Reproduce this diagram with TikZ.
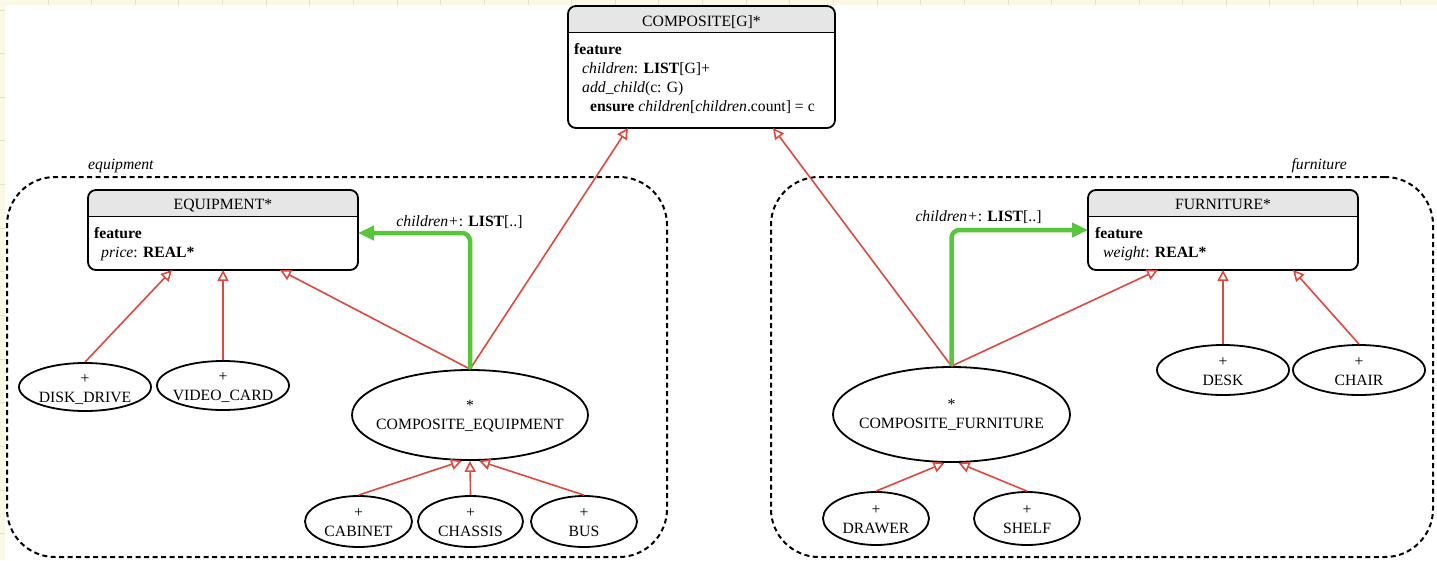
\documentclass[tikz,border=0pt]{standalone}
\usepackage{fontspec}
\setmainfont{Liberation Serif}
\usetikzlibrary{arrows.meta,shapes.geometric}
\pgfdeclarelayer{background}
\pgfsetlayers{background,main}
\definecolor{paper}{HTML}{FCF8E6}
\definecolor{gridline}{HTML}{E8E1CA}
\definecolor{hdrgray}{HTML}{E6E6E6}
\definecolor{inherit}{HTML}{E0483E}
\definecolor{assoc}{HTML}{58C63A}
% two-line ellipse text: #1 = height of the first line's strut
\newcommand\twoline[3]{\rule{0pt}{#1pt}#2\\#3\rule[-4pt]{0pt}{4pt}}
\begin{document}
\begin{tikzpicture}[x=1pt,y=-1pt,
  every node/.style={font=\fontsize{15.7pt}{19pt}\selectfont},
  cls/.style={draw, line width=1.8pt, rounded corners=8pt, outer sep=0pt, inner sep=0pt},
  hdr/.style={anchor=base, inner sep=0pt},
  txt/.style={anchor=base west, inner sep=0pt},
  ell/.style={ellipse, draw, line width=1.8pt, inner sep=0pt},
  etxt/.style={align=center, inner sep=0pt},
  region/.style={draw, line width=2pt, dash pattern=on 5pt off 3.5pt, rounded corners=48pt, inner sep=0pt, outer sep=0pt},
  reglbl/.style={inner sep=0pt, font=\fontsize{15.7pt}{19pt}\selectfont\itshape},
  isa/.style={draw=inherit, line width=1.6pt, -{Triangle[open, length=11pt, width=11pt]}},
  has/.style={draw=assoc, line width=4.5pt, rounded corners=8pt, -{Triangle[length=16pt, width=14pt]}},
  lbl/.style={inner sep=0pt, anchor=base}]
\useasboundingbox (0,0) rectangle (1437,560);

% paper with its grid, and the white sheet on top
\begin{pgfonlayer}{background}
  \fill[paper] (0,0) rectangle (1437,560);
  \foreach \i in {0,...,31} \draw[gridline, line width=1pt] ({48+43.64*\i},0) -- ++(0,560);
  \foreach \i in {0,...,12} \draw[gridline, line width=1pt] (0,{10+43.65*\i}) -- ++(1437,0);
  \fill[white] (5,5) rectangle (1437,560);
\end{pgfonlayer}

% clusters
\node[region, minimum width=660pt, minimum height=380pt] (eqreg) at (337,367) {};
\node[region, minimum width=662pt, minimum height=380pt] (frreg) at (1102,367) {};
\node[reglbl, anchor=base west] (eqlbl) at ([xshift=81pt, yshift=8pt]eqreg.north west) {equipment};
\node[reglbl, anchor=base east] (frlbl) at ([xshift=-86pt, yshift=8pt]frreg.north east) {furniture};

% class boxes
\node[cls, minimum width=267pt, minimum height=122pt] (comp) at (701.5,67) {};
\node[cls, minimum width=270pt, minimum height=80pt] (equip) at (223,230) {};
\node[cls, minimum width=270pt, minimum height=80pt] (furn) at (1223,230) {};

\begin{pgfonlayer}{background}
  \foreach \b in {comp,equip,furn} {
    \fill[hdrgray, rounded corners=8pt] (\b.north west) rectangle ([yshift=-26.5pt]\b.north east);
    \fill[hdrgray] ([yshift=-13pt]\b.north west) rectangle ([yshift=-26.5pt]\b.north east);
  }
\end{pgfonlayer}
\foreach \b in {comp,equip,furn}
  \draw[line width=1.8pt] ([yshift=-26.5pt]\b.north west) -- ([yshift=-26.5pt]\b.north east);

\node[hdr] (compT) at ([yshift=-20pt]comp.north) {COMPOSITE[G]*};
\node[txt] (compF) at ([xshift=6pt, yshift=-48pt]comp.north west) {\textbf{feature}};
\node[txt] (compC) at ([xshift=14pt, yshift=-67pt]comp.north west) {\textit{children}: \textbf{LIST}[G]+};
\node[txt] (compA) at ([xshift=14pt, yshift=-86pt]comp.north west) {\textit{add\_child}(c: G)};
\node[txt] (compE) at ([xshift=22pt, yshift=-105pt]comp.north west) {\textbf{ensure} \textit{children}[\textit{children}.count] = c};

\node[hdr] (equipT) at ([yshift=-19.5pt]equip.north) {EQUIPMENT*};
\node[txt] (equipF) at ([xshift=6pt, yshift=-48pt]equip.north west) {\textbf{feature}};
\node[txt] (equipP) at ([xshift=13pt, yshift=-67pt]equip.north west) {\textit{price}: \textbf{REAL*}};

\node[hdr] (furnT) at ([yshift=-19.5pt]furn.north) {FURNITURE*};
\node[txt] (furnF) at ([xshift=7pt, yshift=-48pt]furn.north west) {\textbf{feature}};
\node[txt] (furnW) at ([xshift=15pt, yshift=-67pt]furn.north west) {\textit{weight}: \textbf{REAL*}};

% leaf and composite classes (fixed-size ellipses, names may run over the outline)
\node[ell, minimum width=132pt, minimum height=48pt, label={[etxt]center:\twoline{15}{+}{DISK\_DRIVE}}] (dd) at (85,387) {};
\node[ell, minimum width=132pt, minimum height=49pt, label={[etxt]center:\twoline{15}{+}{VIDEO\_CARD}}] (vc) at (223,385.5) {};
\node[ell, minimum width=236pt, minimum height=90pt, label={[etxt]center:\twoline{13}{*}{COMPOSITE\_EQUIPMENT}}] (ce) at (470,415) {};
\node[ell, minimum width=107pt, minimum height=51pt, label={[etxt]center:\twoline{15}{+}{CABINET}}] (cab) at (358.5,521.5) {};
\node[ell, minimum width=105pt, minimum height=51pt, label={[etxt]center:\twoline{15}{+}{CHASSIS}}] (chs) at (470.5,521.5) {};
\node[ell, minimum width=106pt, minimum height=51pt, label={[etxt]center:\twoline{15}{+}{BUS}}] (bus) at (584,521.5) {};

\node[ell, minimum width=237pt, minimum height=95pt, label={[etxt]center:\twoline{13}{*}{COMPOSITE\_FURNITURE}}] (cf) at (951.5,414.5) {};
\node[ell, minimum width=106pt, minimum height=53pt, label={[etxt]center:\twoline{15}{+}{DRAWER}}] (drw) at (876,518.5) {};
\node[ell, minimum width=106pt, minimum height=53pt, label={[etxt]center:\twoline{15}{+}{SHELF}}] (shf) at (1027,518.5) {};
\node[ell, minimum width=132pt, minimum height=50pt, label={[etxt]center:\twoline{15}{+}{DESK}}] (desk) at (1223,370) {};
\node[ell, minimum width=132pt, minimum height=50pt, label={[etxt]center:\twoline{15}{+}{CHAIR}}] (chair) at (1359,370) {};

% inheritance
\draw[isa] (dd.north) -- ([xshift=84pt]equip.south west);
\draw[isa] (vc.north) -- (equip.south);
\draw[isa] (ce.north) -- ([xshift=192pt]equip.south west);
\draw[isa] (ce.north) -- ([xshift=60pt]comp.south west);
\draw[isa] (cf.north) -- ([xshift=205pt]comp.south west);
\draw[isa] (cf.north) -- ([xshift=70pt]furn.south west);
\draw[isa] (desk.north) -- (furn.south);
\draw[isa] (chair.north) -- ([xshift=205pt]furn.south west);
\draw[isa] (cab.north) -- ([xshift=-8pt]ce.south);
\draw[isa] (chs.north) -- (ce.south);
\draw[isa] (bus.north) -- ([xshift=9pt]ce.south);
\draw[isa] (drw.north) -- ([xshift=-7pt]cf.south);
\draw[isa] (shf.north) -- ([xshift=7pt]cf.south);

% client links
\draw[has] (ce.north) |- node[lbl, pos=0.5, xshift=-10.5pt, yshift=7pt] (lblL) {\textit{children+}: \textbf{LIST}[..]} ([yshift=-3pt]equip.east);
\draw[has] (cf.north) |- node[lbl, pos=0.5, xshift=27pt, yshift=9pt] (lblR) {\textit{children+}: \textbf{LIST}[..]} (furn.west);
\end{tikzpicture}
\end{document}
